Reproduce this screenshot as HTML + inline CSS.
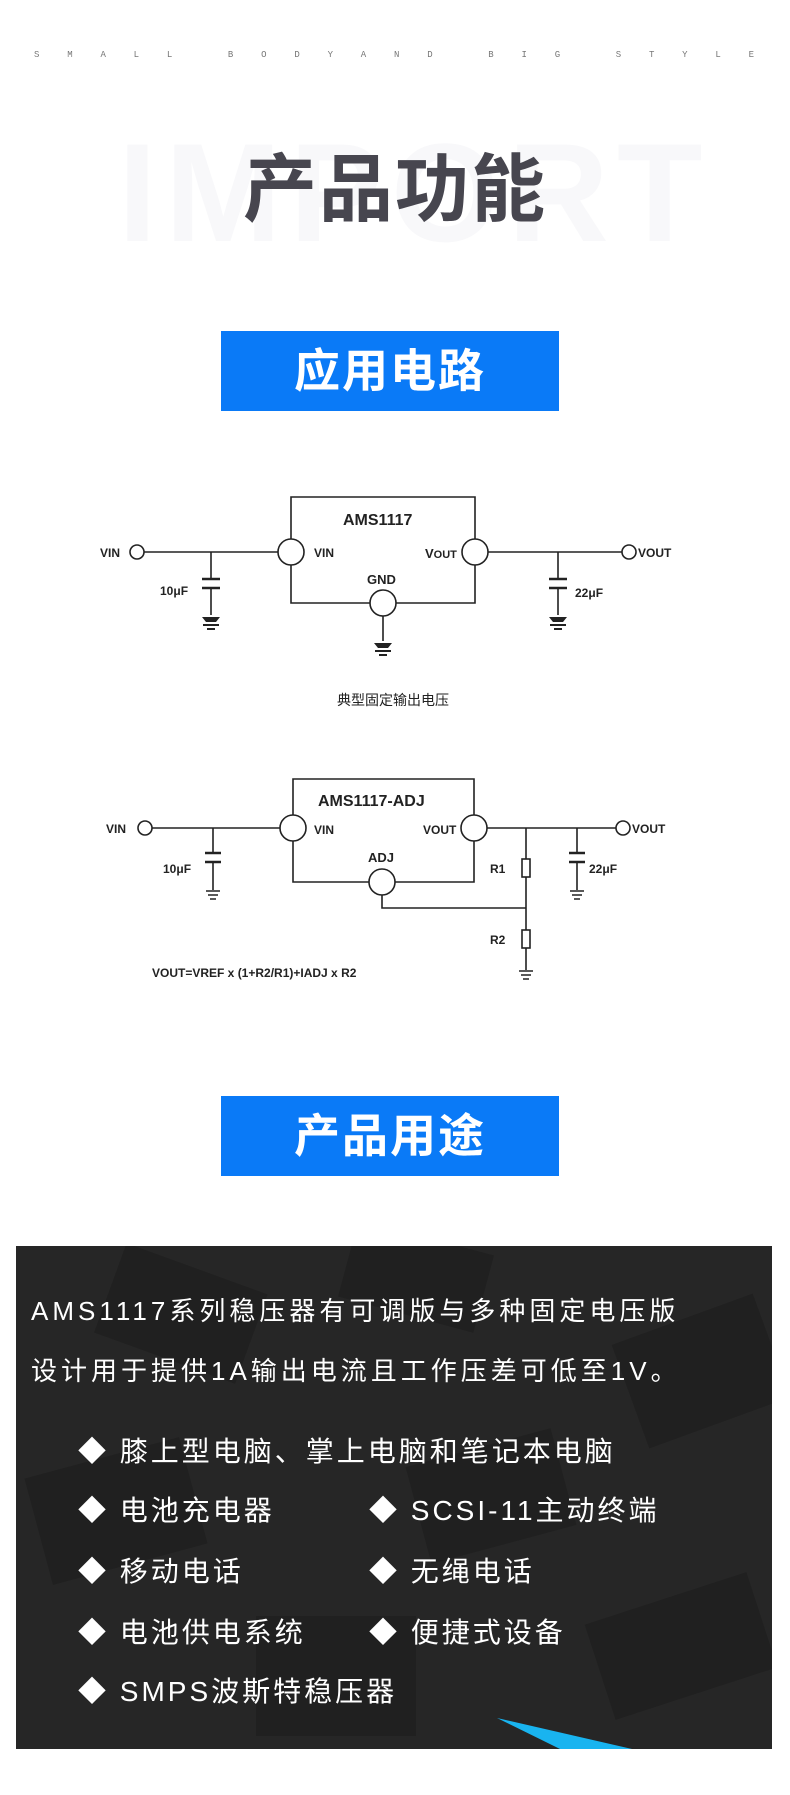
<!DOCTYPE html>
<html><head><meta charset="utf-8"><style>
body{margin:0;width:790px;height:1795px;background:#fff;position:relative;overflow:hidden;font-family:"Liberation Sans","Noto Sans CJK SC",sans-serif}
.abs{position:absolute}
.small{top:50px;left:34px;width:720px;display:flex;justify-content:space-between;font-size:9px;color:#777;font-family:"Liberation Mono",monospace}
.wm{left:118px;top:118px;width:570px;text-align:center;font-size:140px;font-weight:bold;color:#f8f8fa;letter-spacing:8px;line-height:150px}
.title{left:0;width:790px;top:150px;text-align:center;font-size:74px;font-weight:bold;color:#47464f;letter-spacing:2px;line-height:80px}
.blue{left:221px;width:338px;height:80px;background:#0a7af7;color:#fff;font-size:46px;font-weight:bold;text-align:center;line-height:80px;letter-spacing:2px}
.panel{left:16px;top:1246px;width:756px;height:503px;background:#262626;overflow:hidden}
.p{color:#fff;font-size:26px;letter-spacing:4px;white-space:nowrap}
.b{color:#fff;font-size:28px;letter-spacing:3px;white-space:nowrap}
</style></head><body>
<div class="abs small"><span>S</span><span>M</span><span>A</span><span>L</span><span>L</span><span> </span><span>B</span><span>O</span><span>D</span><span>Y</span><span>A</span><span>N</span><span>D</span><span> </span><span>B</span><span>I</span><span>G</span><span> </span><span>S</span><span>T</span><span>Y</span><span>L</span><span>E</span></div>
<div class="abs wm">IMPORT</div>
<div class="abs title">产品功能</div>
<div class="abs blue" style="top:331px">应用电路</div>
<div class="abs blue" style="top:1096px">产品用途</div>

<svg class="abs" style="left:0;top:0" width="790" height="1000" font-family="Liberation Sans" stroke="#222" stroke-width="1.6" fill="none">
<path d="M291 539 V497 H475 V539 M291 565 V603 H370 M396 603 H475 V565"/>
<path d="M144 552 H278 M488 552 H622 M211 552 V579 M211 588 V615 M558 552 V579 M558 588 V615 M383 616 V641"/>
<circle cx="137" cy="552" r="7"/><circle cx="629" cy="552" r="7"/>
<circle cx="291" cy="552" r="13" fill="#fff"/><circle cx="475" cy="552" r="13" fill="#fff"/><circle cx="383" cy="603" r="13" fill="#fff"/>
<g stroke-width="2.5"><path d="M202 579 H220 M202 588 H220 M549 579 H567 M549 588 H567"/></g>
<g fill="#222" stroke="none">
<path d="M202 617 H220 L216 622 H206Z M203 624 H219 V626 H203Z M207 628 H215 V630 H207Z"/>
<path d="M549 617 H567 L563 622 H553Z M550 624 H566 V626 H550Z M554 628 H562 V630 H554Z"/>
<path d="M374 643 H392 L388 648 H378Z M375 650 H391 V652 H375Z M379 654 H387 V656 H379Z"/>
<text x="100" y="557" font-size="12" font-weight="bold">VIN</text>
<text x="314" y="557" font-size="12" font-weight="bold">VIN</text>
<text x="425" y="558" font-size="13" font-weight="bold">V<tspan font-size="11">OUT</tspan></text>
<text x="638" y="557" font-size="12" font-weight="bold">VOUT</text>
<text x="343" y="525" font-size="16" font-weight="bold">AMS1117</text>
<text x="367" y="584" font-size="13" font-weight="bold">GND</text>
<text x="160" y="595" font-size="12" font-weight="bold">10μF</text>
<text x="575" y="597" font-size="12" font-weight="bold">22μF</text>
<text x="337" y="705" font-size="14" font-family="Noto Sans CJK SC">典型固定输出电压</text>
</g>
<path d="M293 815 V779 H474 V815 M293 841 V882 H369 M395 882 H474 V841"/>
<path d="M152 828 H280 M487 828 H616 M213 828 V853 M213 862 V890 M577 828 V853 M577 862 V890 M526 828 V859 M526 877 V930 M526 948 V970 M382 895 V908 H526"/>
<rect x="522" y="859" width="8" height="18"/><rect x="522" y="930" width="8" height="18"/>
<circle cx="145" cy="828" r="7"/><circle cx="623" cy="828" r="7"/>
<circle cx="293" cy="828" r="13" fill="#fff"/><circle cx="474" cy="828" r="13" fill="#fff"/><circle cx="382" cy="882" r="13" fill="#fff"/>
<g stroke-width="2.5"><path d="M205 853 H221 M205 862 H221 M569 853 H585 M569 862 H585"/></g>
<path d="M206 891 H220 M208 895 H218 M210 899 H216 M570 891 H584 M572 895 H582 M574 899 H580 M519 971 H533 M521 975 H531 M523 979 H529"/>
<g fill="#222" stroke="none">
<text x="106" y="833" font-size="12" font-weight="bold">VIN</text>
<text x="314" y="834" font-size="12" font-weight="bold">VIN</text>
<text x="423" y="834" font-size="12" font-weight="bold">VOUT</text>
<text x="632" y="833" font-size="12" font-weight="bold">VOUT</text>
<text x="318" y="806" font-size="16" font-weight="bold">AMS1117-ADJ</text>
<text x="368" y="862" font-size="13" font-weight="bold">ADJ</text>
<text x="163" y="873" font-size="12" font-weight="bold">10μF</text>
<text x="589" y="873" font-size="12" font-weight="bold">22μF</text>
<text x="490" y="873" font-size="12" font-weight="bold">R1</text>
<text x="490" y="944" font-size="12" font-weight="bold">R2</text>
<text x="152" y="977" font-size="12" font-weight="bold">VOUT=VREF x (1+R2/R1)+IADJ x R2</text>
</g>
</svg>

<div class="abs panel">
<svg class="abs" style="left:0;top:0" width="756" height="503">
<g fill="#202020">
<rect x="90" y="20" width="150" height="95" transform="rotate(20 165 67)"/>
<rect x="330" y="-10" width="140" height="80" transform="rotate(15 400 30)"/>
<rect x="610" y="70" width="150" height="110" transform="rotate(-20 685 125)"/>
<rect x="20" y="210" width="160" height="110" transform="rotate(-15 100 265)"/>
<rect x="400" y="200" width="150" height="100" transform="rotate(-15 475 250)"/>
<rect x="240" y="370" width="160" height="120"/>
<rect x="580" y="350" width="170" height="100" transform="rotate(-18 665 400)"/>
</g>
<polygon points="481,472 544,503 616,503" fill="#19b4f0"/>
</svg>
<div class="abs p" style="left:15px;top:45px">AMS1117系列稳压器有可调版与多种固定电压版</div>
<div class="abs p" style="left:15px;top:105px">设计用于提供1A输出电流且工作压差可低至1V。</div>
<div class="abs b" style="left:62px;top:184px">◆ 膝上型电脑、掌上电脑和笔记本电脑</div>
<div class="abs b" style="left:62px;top:243px">◆ 电池充电器</div>
<div class="abs b" style="left:353px;top:243px">◆ SCSI-11主动终端</div>
<div class="abs b" style="left:62px;top:304px">◆ 移动电话</div>
<div class="abs b" style="left:353px;top:304px">◆ 无绳电话</div>
<div class="abs b" style="left:62px;top:365px">◆ 电池供电系统</div>
<div class="abs b" style="left:353px;top:365px">◆ 便捷式设备</div>
<div class="abs b" style="left:62px;top:424px">◆ SMPS波斯特稳压器</div>
</div>
</body></html>
